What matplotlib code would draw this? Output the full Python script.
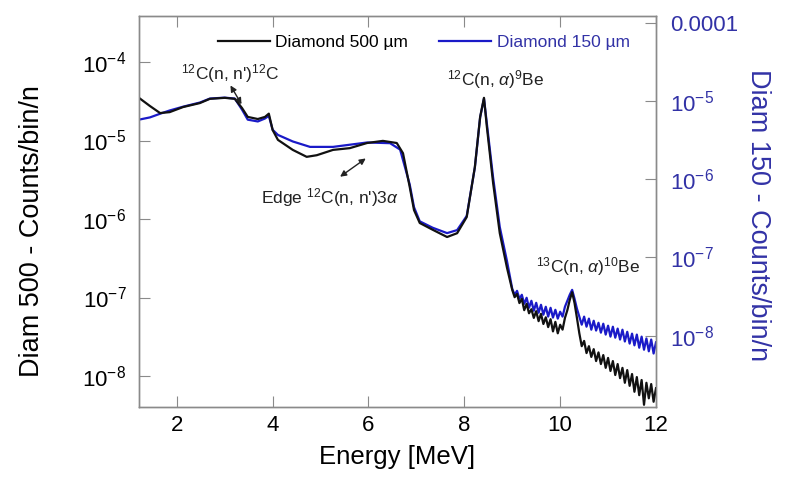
import numpy as np
import matplotlib
matplotlib.use("Agg")
import matplotlib.pyplot as plt
from matplotlib.ticker import FixedLocator, FuncFormatter, NullLocator

plt.rcParams["font.family"] = ["Liberation Sans", "DejaVu Sans"]
plt.rcParams["mathtext.fontset"] = "custom"
plt.rcParams["mathtext.rm"] = "Liberation Sans"
plt.rcParams["mathtext.it"] = "Liberation Sans:italic"

# ---- Diamond 500 um (left axis, counts/bin/n) ----
e500 = [1.21, 1.44, 1.65, 1.85, 2.13, 2.48, 2.69, 3.00, 3.21, 3.36, 3.48, 3.69, 3.84, 3.92,
        4.00, 4.11, 4.42, 4.71, 4.92, 5.26, 5.61, 5.97, 6.30, 6.59, 6.72, 6.86, 6.95, 7.07,
        7.34, 7.64, 7.85, 8.05, 8.22, 8.33, 8.41, 8.47, 8.60, 8.74, 8.89,
        9.00, 9.05, 9.10, 9.15, 9.20, 9.25, 9.30, 9.35, 9.40, 9.45, 9.50, 9.55, 9.60, 9.65,
        9.70, 9.75, 9.80, 9.85, 9.90, 9.95, 10.00, 10.05, 10.10, 10.15, 10.20, 10.25, 10.30,
        10.35, 10.40, 10.45, 10.50, 10.55, 10.60, 10.65, 10.70, 10.75, 10.80, 10.85, 10.90,
        10.95, 11.00, 11.05, 11.10, 11.15, 11.20, 11.25, 11.30, 11.35, 11.40, 11.45, 11.50,
        11.55, 11.60, 11.65, 11.70, 11.75, 11.80, 11.85, 11.90, 11.95, 12.00]
c500 = [3.5e-5, 2.75e-5, 2.24e-5, 2.3e-5, 2.67e-5, 3.0e-5, 3.4e-5, 3.5e-5, 3.4e-5, 2.6e-5,
        2.0e-5, 1.88e-5, 2.0e-5, 2.2e-5, 1.36e-5, 1.02e-5, 7.6e-6, 6.2e-6, 6.5e-6, 7.6e-6,
        8.0e-6, 9.3e-6, 9.9e-6, 9.3e-6, 6.9e-6, 2.57e-6, 1.3e-6, 8.9e-7, 7.3e-7, 5.9e-7,
        6.6e-7, 1.06e-6, 4.6e-6, 2.0e-5, 3.5e-5, 1.5e-5, 2.9e-6, 6.6e-7, 2.4e-7,
        1.25e-7, 1.01e-7, 1.11e-7, 8.5e-8, 9.6e-8, 6.9e-8, 8.3e-8, 6.3e-8, 7.1e-8, 5.5e-8,
        6.7e-8, 5.0e-8, 6.2e-8, 4.6e-8, 5.6e-8, 4.2e-8, 5.3e-8, 3.7e-8, 4.9e-8, 3.5e-8,
        4.5e-8, 3.9e-8, 5.5e-8, 6.9e-8, 9.3e-8, 1.17e-7, 8.5e-8, 5.5e-8, 3.5e-8, 2.4e-8,
        2.8e-8, 1.96e-8, 2.4e-8, 1.75e-8, 2.2e-8, 1.55e-8, 2.0e-8, 1.42e-8, 1.85e-8, 1.27e-8,
        1.7e-8, 1.16e-8, 1.55e-8, 1.03e-8, 1.42e-8, 9.4e-9, 1.27e-8, 8.2e-9, 1.19e-8, 7.5e-9,
        1.06e-8, 6.3e-9, 9.7e-9, 5.7e-9, 8.9e-9, 4.3e-9, 8.2e-9, 5.2e-9, 7.9e-9, 4.7e-9,
        7.0e-9]

# ---- Diamond 150 um (right axis, counts/bin/n) ----
e150 = [1.21, 1.44, 1.65, 1.85, 2.13, 2.48, 2.69, 3.00, 3.21, 3.36, 3.48, 3.69, 3.84, 3.92,
        4.00, 4.11, 4.42, 4.78, 5.26, 5.97, 6.45, 6.66, 6.86, 6.95, 7.07, 7.34, 7.64, 7.85,
        8.05, 8.22, 8.33, 8.41, 8.47, 8.60, 8.74, 8.89,
        9.00, 9.05, 9.10, 9.15, 9.20, 9.25, 9.30, 9.35, 9.40, 9.45, 9.50, 9.55, 9.60, 9.65,
        9.70, 9.75, 9.80, 9.85, 9.90, 9.95, 10.00, 10.05, 10.10, 10.15, 10.20, 10.25, 10.30,
        10.35, 10.40, 10.45, 10.50, 10.55, 10.60, 10.65, 10.70, 10.75, 10.80, 10.85, 10.90,
        10.95, 11.00, 11.05, 11.10, 11.15, 11.20, 11.25, 11.30, 11.35, 11.40, 11.45, 11.50,
        11.55, 11.60, 11.65, 11.70, 11.75, 11.80, 11.85, 11.90, 11.95, 12.00]
c150 = [5.8e-6, 6.2e-6, 6.9e-6, 7.6e-6, 8.5e-6, 9.6e-6, 1.08e-5, 1.11e-5, 1.08e-5, 7.8e-6,
        5.8e-6, 5.5e-6, 6.0e-6, 6.5e-6, 4.3e-6, 3.7e-6, 3.05e-6, 2.6e-6, 2.6e-6, 2.96e-6,
        2.9e-6, 2.4e-6, 8.6e-7, 4.4e-7, 2.9e-7, 2.4e-7, 2.05e-7, 2.24e-7, 3.4e-7, 1.42e-6,
        6.2e-6, 1.08e-5, 5.2e-6, 1.06e-6, 2.45e-7, 9.0e-8,
        3.97e-8, 3.33e-8, 3.74e-8, 2.96e-8, 3.33e-8, 2.55e-8, 3.05e-8, 2.27e-8, 2.79e-8,
        2.08e-8, 2.63e-8, 1.96e-8, 2.48e-8, 1.85e-8, 2.34e-8, 1.75e-8, 2.27e-8, 1.70e-8,
        2.14e-8, 1.65e-8, 2.02e-8, 1.75e-8, 2.34e-8, 2.79e-8, 3.33e-8, 3.85e-8, 2.96e-8,
        2.21e-8, 1.75e-8, 1.38e-8, 1.75e-8, 1.30e-8, 1.65e-8, 1.19e-8, 1.55e-8, 1.16e-8,
        1.46e-8, 1.09e-8, 1.42e-8, 1.03e-8, 1.34e-8, 9.7e-9, 1.30e-8, 9.4e-9, 1.23e-8,
        8.9e-9, 1.19e-8, 8.4e-9, 1.12e-8, 7.9e-9, 1.06e-8, 7.5e-9, 1.03e-8, 7.0e-9, 9.7e-9,
        6.6e-9, 9.2e-9, 6.3e-9, 8.9e-9, 5.9e-9, 8.2e-9]

BLACK = "#111111"
BLUE_LINE = "#1a1ac8"
BLUE_TXT = "#3232a6"
GRAY = "#8a8a8a"

fig = plt.figure(figsize=(7.86, 4.79), dpi=100)
ax = fig.add_axes([0.1768, 0.1503, 0.6578, 0.8163])
ax2 = ax.twinx()
ax.set_zorder(ax2.get_zorder() + 1)
ax.patch.set_visible(False)

l2, = ax2.plot(e150, c150, color=BLUE_LINE, lw=1.6, label="Diamond 150 µm")
l1, = ax.plot(e500, c500, color=BLACK, lw=1.6, label="Diamond 500 µm")

ax.set_xlim(1.21, 12)
ax.set_yscale("log"); ax2.set_yscale("log")
ax.set_ylim(4.03e-9, 3.86e-4)
ax2.set_ylim(1.22e-9, 1.23e-4)

ax.xaxis.set_major_locator(FixedLocator([2, 4, 6, 8, 10, 12]))
ax.yaxis.set_major_locator(FixedLocator([1e-8, 1e-7, 1e-6, 1e-5, 1e-4]))
ax2.yaxis.set_major_locator(FixedLocator([1e-8, 1e-7, 1e-6, 1e-5, 1e-4]))
for a in (ax, ax2):
    a.yaxis.set_minor_locator(NullLocator())
ax.yaxis.set_major_formatter(FuncFormatter(lambda v, p: r"$10^{%d}$" % round(np.log10(v))))
ax2.yaxis.set_major_formatter(FuncFormatter(
    lambda v, p: "0.0001" if round(np.log10(v)) == -4 else r"$10^{%d}$" % round(np.log10(v))))

ax.tick_params(axis="x", which="major", direction="in", top=True, length=8, color=GRAY,
               labelsize=16, pad=6)
ax.tick_params(axis="y", which="major", direction="in", right=False, length=8, color=GRAY,
               labelsize=16, pad=9)
ax2.tick_params(axis="y", which="major", direction="in", length=8, color=GRAY,
                labelsize=16, labelcolor=BLUE_TXT, pad=10)
for a in (ax, ax2):
    for s in a.spines.values():
        s.set_color(GRAY); s.set_linewidth(1.0)

ax.set_xlabel("Energy [MeV]", fontsize=18.5, labelpad=6)
ax.set_ylabel("Diam 500 - Counts/bin/n", fontsize=19.5)
ax.yaxis.set_label_coords(-0.182, 0.45)
ax2.set_ylabel("Diam 150 - Counts/bin/n", fontsize=19.5, color=BLUE_TXT, rotation=270)
ax2.yaxis.set_label_coords(1.223, 0.49)

leg = ax.legend(handles=[l1, l2], loc="center", bbox_to_anchor=(0.551, 0.933), ncol=2,
                frameon=False, fontsize=12.5, handlelength=3.0, handletextpad=0.3,
                columnspacing=1.8)
leg.get_texts()[1].set_color(BLUE_TXT)

ann = dict(fontsize=12.5, color="#222222", ha="center", va="center")
ax.text(3.11, 7.2e-5, r"$^{12}$C(n, n')$^{12}$C", **ann)
ax.text(8.66, 5.9e-5, r"$^{12}$C(n, $\alpha$)$^{9}$Be", **ann)
ax.text(5.19, 1.9e-6, r"Edge $^{12}$C(n, n')3$\alpha$", **ann)
ax.text(10.58, 2.45e-7, r"$^{13}$C(n, $\alpha$)$^{10}$Be", **ann)
arrow = dict(arrowstyle="<|-|>", color="#222222", lw=1.0, mutation_scale=9)
ax.annotate("", xy=(3.09, 5.4e-5), xytext=(3.38, 2.7e-5), arrowprops=arrow)
ax.annotate("", xy=(5.36, 3.3e-6), xytext=(5.99, 6.2e-6), arrowprops=arrow)

fig.savefig("out.png", dpi=100)
